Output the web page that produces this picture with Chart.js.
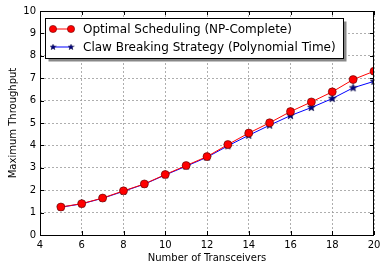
<!DOCTYPE html>
<html>
<head>
<meta charset="utf-8">
<script src="https://cdn.jsdelivr.net/npm/chart.js@4"></script>
<style>
  html, body { margin: 0; padding: 0; background: #fff; }
  #wrap { width: 387px; height: 271px; }
</style>
</head>
<body>
<div id="wrap"><canvas id="chart" width="387" height="271"></canvas></div>
<script>
// --- Data ---
const transceivers = [5, 6, 7, 8, 9, 10, 11, 12, 13, 14, 15, 16, 17, 18, 19, 20];
const optimalThroughput = [1.25, 1.4, 1.65, 1.97, 2.28, 2.7, 3.1, 3.5, 4.04, 4.55, 5.01, 5.51, 5.94, 6.39, 6.94, 7.31];
const clawThroughput = [1.24, 1.39, 1.64, 1.95, 2.27, 2.68, 3.07, 3.47, 3.98, 4.45, 4.9, 5.33, 5.69, 6.09, 6.57, 6.86];
const seriesLabels = ['Optimal Scheduling (NP-Complete)', 'Claw Breaking Strategy (Polynomial Time)'];
const xTicks = [4, 6, 8, 10, 12, 14, 16, 18, 20];
const yTicks = [0, 1, 2, 3, 4, 5, 6, 7, 8, 9, 10];

const FONT = 'DejaVu Sans';

// filled star marker, matplotlib style
function makeStar(size) {
    const c = document.createElement('canvas');
    c.width = size; c.height = size;
    const ctx = c.getContext('2d');
    const cx = size / 2, cy = size / 2, R = size / 2 - 0.5, r = R * 0.42;
    ctx.beginPath();
    for (let i = 0; i < 10; i++) {
        const a = -Math.PI / 2 + i * Math.PI / 5;
        const rad = i % 2 === 0 ? R : r;
        ctx.lineTo(cx + rad * Math.cos(a), cy + rad * Math.sin(a));
    }
    ctx.closePath();
    ctx.fillStyle = '#000080';
    ctx.fill();
    ctx.strokeStyle = '#00003a';
    ctx.lineWidth = 0.6;
    ctx.stroke();
    return c;
}
const starImg = makeStar(9);

// frame + inner ticks + matplotlib-like legend
const framePlugin = {
    id: 'frame',
    afterDraw(chart) {
        const { ctx, chartArea: a, scales } = chart;
        ctx.save();
        // inner tick marks
        ctx.strokeStyle = '#000';
        ctx.lineWidth = 1;
        ctx.beginPath();
        xTicks.forEach(v => {
            const x = Math.round(scales.x.getPixelForValue(v)) + 0.5;
            ctx.moveTo(x, a.bottom); ctx.lineTo(x, a.bottom - 4);
            ctx.moveTo(x, a.top); ctx.lineTo(x, a.top + 4);
        });
        yTicks.forEach(v => {
            const y = Math.round(scales.y.getPixelForValue(v)) + 0.5;
            ctx.moveTo(a.left, y); ctx.lineTo(a.left + 4, y);
            ctx.moveTo(a.right, y); ctx.lineTo(a.right - 4, y);
        });
        ctx.stroke();
        ctx.strokeRect(Math.round(a.left) + 0.5, Math.round(a.top) + 0.5,
            Math.round(a.right - a.left) - 1, Math.round(a.bottom - a.top));

        // legend
        const lx = 45.5, ly = 18.5, lw = 298, lh = 40;
        ctx.fillStyle = '#888';
        ctx.fillRect(lx + 3, ly + 3, lw, lh);
        ctx.fillStyle = '#fff';
        ctx.fillRect(lx, ly, lw, lh);
        ctx.strokeStyle = '#000';
        ctx.strokeRect(lx, ly, lw, lh);
        ctx.font = '12px "' + FONT + '"';
        ctx.textBaseline = 'middle';
        const rows = [
            { y: 29, color: '#ff0000', marker: 'circle' },
            { y: 47, color: '#0000ff', marker: 'star' }
        ];
        rows.forEach((row, i) => {
            ctx.strokeStyle = row.color;
            ctx.lineWidth = 1;
            ctx.beginPath();
            ctx.moveTo(53, row.y); ctx.lineTo(71, row.y);
            ctx.stroke();
            [53, 71].forEach(px => {
                if (row.marker === 'circle') {
                    ctx.beginPath();
                    ctx.arc(px, row.y, 3.6, 0, Math.PI * 2);
                    ctx.fillStyle = '#ff0000';
                    ctx.fill();
                    ctx.strokeStyle = '#600';
                    ctx.lineWidth = 0.6;
                    ctx.stroke();
                } else {
                    ctx.drawImage(starImg, px - 3.5, row.y - 3.5, 7, 7);
                }
            });
            ctx.fillStyle = '#000';
            ctx.fillText(seriesLabels[i], 83, row.y + 0.5);
        });
        ctx.restore();
    }
};

new Chart(document.getElementById('chart').getContext('2d'), {
    type: 'line',
    data: {
        datasets: [{
            label: seriesLabels[0],
            data: transceivers.map((x, i) => ({ x, y: optimalThroughput[i] })),
            borderColor: '#ff0000',
            borderWidth: 1,
            backgroundColor: '#ff0000',
            pointBackgroundColor: '#ff0000',
            pointBorderColor: '#550000',
            pointBorderWidth: 0.6,
            pointRadius: 4,
            tension: 0
        }, {
            label: seriesLabels[1],
            data: transceivers.map((x, i) => ({ x, y: clawThroughput[i] })),
            borderColor: '#0000ff',
            borderWidth: 1,
            backgroundColor: '#000080',
            pointStyle: starImg,
            pointRadius: 4.5,
            tension: 0
        }]
    },
    plugins: [framePlugin],
    options: {
        responsive: false,
        animation: false,
        events: [],
        layout: { padding: { left: 7, top: 11, right: 13, bottom: 7 } },
        plugins: { legend: { display: false }, tooltip: { enabled: false } },
        scales: {
            x: {
                type: 'linear',
                min: 4, max: 20,
                afterBuildTicks: s => { s.ticks = xTicks.map(v => ({ value: v })); },
                afterFit: s => { s.height = 29; },
                grid: { color: '#9a9a9a', lineWidth: 0.8, drawTicks: false },
                border: { display: false, dash: [2, 2] },
                ticks: { padding: 4, color: '#000', font: { family: FONT, size: 10 }, maxRotation: 0 },
                title: { display: true, text: 'Number of Transceivers', color: '#000', font: { family: FONT, size: 10 }, padding: { top: 3, bottom: 0 } }
            },
            y: {
                min: 0, max: 10,
                afterBuildTicks: s => { s.ticks = yTicks.map(v => ({ value: v })); },
                afterFit: s => { s.width = 33; },
                grid: { color: '#9a9a9a', lineWidth: 0.8, drawTicks: false },
                border: { display: false, dash: [2, 2] },
                ticks: { padding: 4, color: '#000', font: { family: FONT, size: 10 } },
                title: { display: true, text: 'Maximum Throughput', color: '#000', font: { family: FONT, size: 10 }, padding: { top: 0, bottom: 2 } }
            }
        }
    }
});
</script>
</body>
</html>
